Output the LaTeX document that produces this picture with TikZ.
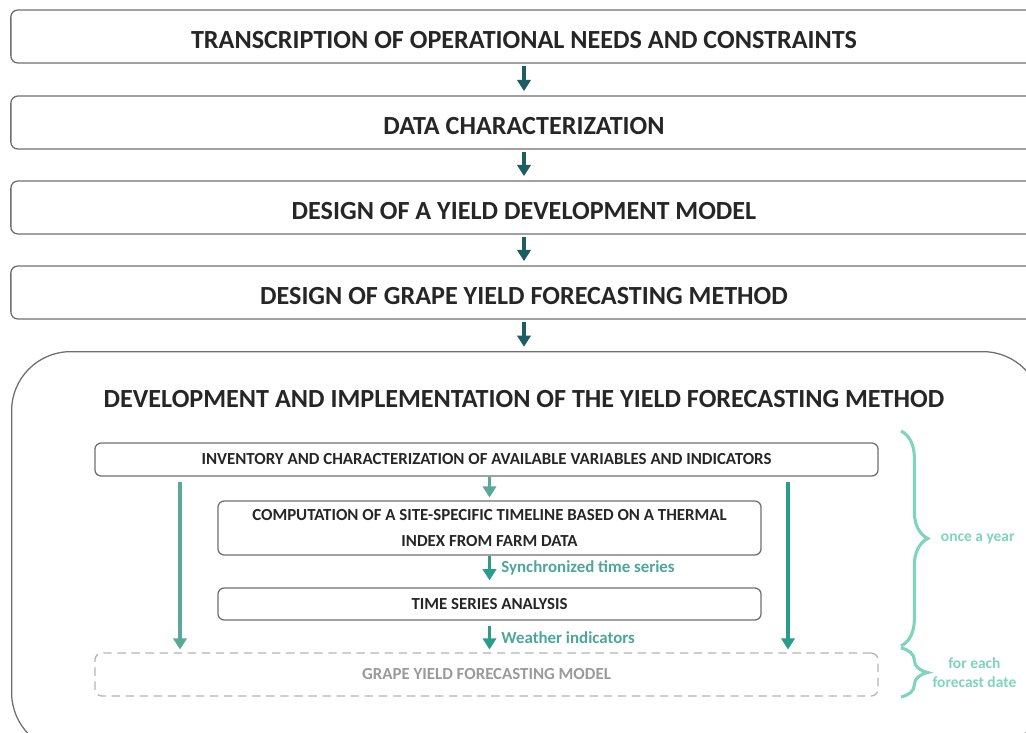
\documentclass[tikz,border=0pt]{standalone}
\usepackage{fontspec}
\setmainfont{Carlito}
\usepackage{tikz}
\usetikzlibrary{arrows.meta, positioning, decorations.pathreplacing}

\definecolor{boxgray}{HTML}{6E6E6E}
\definecolor{darkteal}{HTML}{1E5E63}
\definecolor{midteal}{HTML}{5BA89A}
\definecolor{teal2}{HTML}{2A9D8A}
\definecolor{labteal}{HTML}{4EA698}
\definecolor{bracegreen}{HTML}{7FD4BC}
\definecolor{dashgray}{HTML}{B4B4B4}
\definecolor{textgray}{HTML}{9A9A9A}

\newcommand{\lowtext}[1]{\raisebox{-8.5pt}[0pt][0pt]{#1}}

\begin{document}
\begin{tikzpicture}[x=0.025cm, y=-0.025cm,
    stepbox/.style={draw=boxgray, line width=0.9pt, rounded corners=5pt, minimum width=25.65cm, minimum height=1.325cm, font=\fontsize{18.6}{22}\selectfont\bfseries, text=black!85},
    innerbox/.style={draw=boxgray, line width=0.9pt, rounded corners=4.5pt, align=center, font=\fontsize{12}{19}\selectfont\bfseries, text=black!85},
    topar/.style={-{Triangle[length=8pt, width=9.5pt]}, line width=2.3pt, draw=darkteal},
    inar/.style={-{Triangle[length=8pt, width=9.5pt]}, line width=2.3pt},
    flowlab/.style={right=4pt, font=\fontsize{12}{14}\selectfont\bfseries, text=labteal},
    brlab/.style={font=\fontsize{11}{13}\selectfont\bfseries, text=bracegreen, align=center},
    yearbrace/.style={decorate, decoration={brace, amplitude=19pt}, draw=bracegreen, line width=2.2pt}]
      \path[use as bounding box, clip] (0,0) rectangle (1026,732);

      % Nodes (top steps)
      \node[stepbox] (needs) at (524,36.5) {\lowtext{TRANSCRIPTION OF OPERATIONAL NEEDS AND CONSTRAINTS}};
      \node[stepbox] (data) at (524,122.5) {\lowtext{DATA CHARACTERIZATION}};
      \node[stepbox] (model) at (524,207.5) {\lowtext{DESIGN OF A YIELD DEVELOPMENT MODEL}};
      \node[stepbox] (method) at (524,292.5) {\lowtext{DESIGN OF GRAPE YIELD FORECASTING METHOD}};

      % big rounded frame and its title
      \node[draw=boxgray, line width=0.9pt, rounded corners=42pt, anchor=north west, minimum width=25.75cm, minimum height=10cm] (dev) at (11,351) {};
      \node[font=\fontsize{18.6}{24}\selectfont\bfseries, text=black!85] (devtitle) at (524,399) {DEVELOPMENT AND IMPLEMENTATION OF THE YIELD FORECASTING METHOD};

      % Nodes (inner steps)
      \node[innerbox, minimum width=19.575cm, minimum height=0.825cm] (inv) at (486.5,459.5) {INVENTORY AND CHARACTERIZATION OF AVAILABLE VARIABLES AND INDICATORS};
      \node[innerbox, minimum width=13.575cm, minimum height=1.35cm] (comp) at (489.5,528) {COMPUTATION OF A SITE-SPECIFIC TIMELINE BASED ON A THERMAL\\INDEX FROM FARM DATA};
      \node[innerbox, minimum width=13.575cm, minimum height=0.8cm] (tsa) at (489.5,604) {TIME SERIES ANALYSIS};
      \node[draw=dashgray, line width=0.9pt, dash pattern=on 6pt off 4pt, rounded corners=5pt, minimum width=19.575cm, minimum height=1.075cm, font=\fontsize{12}{14}\selectfont\bfseries, text=textgray] (fcm) at (486.5,674.5) {GRAPE YIELD FORECASTING MODEL};

      \coordinate (lx) at (180,0);
      \coordinate (rx) at (788,0);
      \coordinate (bt1) at (901,431);
      \coordinate (bb1) at (901,646);
      \coordinate (bt2) at (901,648);
      \coordinate (bb2) at (901,697);

      % Arrows
      \draw[topar] ([yshift=-2pt]needs.south) -- ([yshift=3pt]data.north);
      \draw[topar] ([yshift=-2pt]data.south) -- ([yshift=3pt]model.north);
      \draw[topar] ([yshift=-2pt]model.south) -- ([yshift=3pt]method.north);
      \draw[topar] ([yshift=-2pt]method.south) -- ([yshift=3pt]dev.north -| method.south);
      \draw[inar, draw=midteal] (inv.south -| comp.north) -- ([yshift=2pt]comp.north);
      \draw[inar, draw=teal2] (comp.south) -- ([yshift=5pt]tsa.north) node[midway, flowlab] {Synchronized time series};
      \draw[inar, draw=teal2] ([yshift=-4pt]tsa.south) -- ([yshift=2pt]fcm.north -| tsa.south) node[midway, flowlab] {Weather indicators};
      \draw[inar, draw=midteal] ([yshift=-4pt]inv.south -| lx) -- ([yshift=2pt]fcm.north -| lx);
      \draw[inar, draw=teal2] ([yshift=-4pt]inv.south -| rx) -- ([yshift=2pt]fcm.north -| rx);

      % Braces
      \draw[yearbrace] (bt1) -- (bb1) node[midway, right=24pt, brlab] (once) {once a year};
      \draw[yearbrace] (bt2) -- (bb2) node[midway, right=18pt, brlab] (each) {for each\\forecast date};
    \end{tikzpicture}
\end{document}
